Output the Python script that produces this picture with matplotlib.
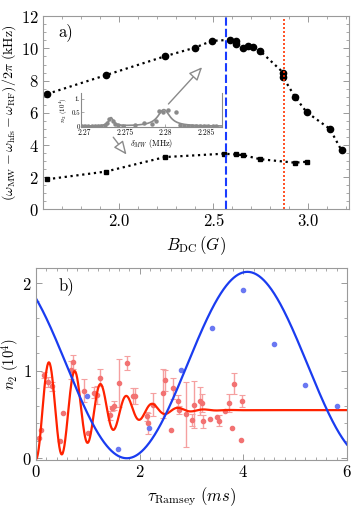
import numpy as np
import matplotlib
matplotlib.use("Agg")
import matplotlib.pyplot as plt
from matplotlib.ticker import MultipleLocator, FixedLocator

plt.rcParams['font.family'] = 'serif'
plt.rcParams['font.serif'] = ['cmr10', 'DejaVu Serif']
plt.rcParams['mathtext.fontset'] = 'cm'
plt.rcParams['axes.formatter.use_mathtext'] = True
plt.rcParams['axes.unicode_minus'] = False

# panel a) data
b_upper = [1.62, 1.931, 2.243, 2.40, 2.492, 2.587, 2.619, 2.62, 2.658, 2.684, 2.71, 2.746,
           2.869, 2.869, 2.931, 2.993, 3.116, 3.178]
f_upper = [7.17, 8.34, 9.51, 10.04, 10.47, 10.53, 10.43, 10.3, 10.0, 10.15, 10.1, 9.85,
           8.5, 8.2, 7.0, 6.04, 5.0, 3.66]
b_lower = [1.62, 1.931, 2.243, 2.556, 2.619, 2.658, 2.746, 2.931, 2.993]
f_lower = [1.87, 2.35, 3.25, 3.46, 3.41, 3.37, 3.12, 2.9, 2.96]
b_blue_line = 2.564
b_red_line = 2.876

# inset data
inset_d = [2.2697, 2.2701, 2.2705, 2.2709, 2.2713, 2.2717, 2.2721, 2.2725, 2.2728, 2.2731,
           2.2735, 2.2738, 2.2742, 2.2748, 2.2762, 2.2774, 2.2783, 2.2788, 2.2792, 2.2797,
           2.2803, 2.2813, 2.2818, 2.2823, 2.2828, 2.2833, 2.2838, 2.2843, 2.2848, 2.2853,
           2.2858, 2.2862]
inset_n = [0.0, 0.01, 0.0, 0.01, 0.0, 0.01, 0.02, 0.04, 0.12, 0.27, 0.19, 0.07, 0.04, 0.0,
           0.05, 0.12, 0.08, 0.19, 0.56, 0.53, 0.58, 0.50, 0.04, 0.01, 0.0, 0.01, 0.0,
           0.01, 0.0, 0.0, 0.0, 0.01]
# lorentz fit parameters (center, height, half width)
peak1 = (2.2733, 0.30, 0.00035)
peak2 = (2.2798, 0.60, 0.0009)

# panel b) data
blue_t = [0.99, 1.59, 2.19, 2.80, 3.39, 4.0, 4.60, 5.2, 5.80]
blue_n = [0.71, 0.11, 0.34, 1.01, 1.49, 1.92, 1.31, 0.84, 0.60]
red_t = [0.05, 0.10, 0.16, 0.23, 0.31, 0.46, 0.53, 0.68, 0.72, 0.93, 1.0, 1.11, 1.17, 1.24,
         1.43, 1.47, 1.51, 1.60, 1.76, 1.88, 1.92, 2.14, 2.16, 2.25, 2.45, 2.49, 2.61, 2.64,
         2.74, 2.75, 2.90, 3.01, 3.04, 3.16, 3.20, 3.23, 3.35, 3.49, 3.54, 3.65, 3.72, 3.83,
         3.79, 3.95, 3.98]
red_n = [0.23, 0.32, 0.95, 0.87, 0.82, 0.20, 0.52, 1.01, 1.10, 0.77, 0.29, 0.75, 0.72, 0.92,
         0.49, 0.57, 0.60, 0.86, 1.09, 0.71, 0.71, 0.48, 0.40, 0.61, 0.74, 0.89, 0.32, 0.80,
         0.65, 0.55, 0.50, 0.44, 0.61, 0.65, 0.63, 0.42, 0.45, 0.47, 0.43, 0.54, 0.63, 0.85,
         0.34, 0.21, 0.65]
red_err = [0, 0, 0.03, 0.06, 0.05, 0, 0, 0.1, 0.08, 0.13, 0, 0.06, 0.1, 0.1,
           0.05, 0.03, 0.05, 0.27, 0.08, 0.09, 0.09, 0.05, 0.12, 0.13, 0.28, 0.12, 0, 0.12,
           0.07, 0.05, 0.37, 0.07, 0.27, 0.16, 0.1, 0.07, 0, 0, 0.06, 0, 0.1, 0.12,
           0, 0, 0.07]
# fit parameters
blue_fit = dict(c=1.065, a=1.065, w=1.35, t0=4.08)
red_fit = dict(c=0.55, a=0.56, w=2 * np.pi / 0.5, tau=1.57)

frame_col = '#9a9a9a'


def style_axes(ax):
    for s in ax.spines.values():
        s.set_color(frame_col)
        s.set_linewidth(0.8)
    ax.tick_params(which='both', direction='in', top=True, right=True, color=frame_col,
                   labelsize=12, pad=3)
    ax.tick_params(which='major', length=4, width=0.7)
    ax.tick_params(which='minor', length=2, width=0.6)


fig = plt.figure(figsize=(3.57, 5.07), dpi=100)

# ---- panel a
ax1 = fig.add_axes([0.1204, 0.587, 0.857, 0.381])
ax1.plot(b_upper, f_upper, ':', color='black', lw=1.6, marker='o', ms=4.5)
ax1.plot(b_lower, f_lower, ':', color='black', lw=1.6, marker='s', ms=3.0)
ax1.axvline(b_blue_line, color='#1a3cff', lw=1.5, ls=(0, (4, 1.5)))
ax1.axvline(b_red_line, color='#ff3300', lw=1.2, ls=(0, (1.2, 1.2)))
ax1.set_xlim(1.598, 3.217)
ax1.set_ylim(0, 12)
ax1.xaxis.set_major_locator(FixedLocator([2.0, 2.5, 3.0]))
ax1.xaxis.set_minor_locator(MultipleLocator(0.1))
ax1.yaxis.set_major_locator(MultipleLocator(2))
ax1.yaxis.set_minor_locator(MultipleLocator(0.5))
ax1.set_xticklabels(['2.0', '2.5', '3.0'])
style_axes(ax1)
ax1.set_xlabel(r'$B_{\rm DC}\,(G)$', fontsize=12, labelpad=4)
ax1.set_ylabel(r'$(\omega_{\rm MW}-\omega_{\rm hfs}-\omega_{\rm RF})/2\pi\ (\rm kHz)$',
               fontsize=10, labelpad=1)
ax1.yaxis.set_label_coords(-0.083, 0.5)
ax1.text(1.677, 11.0, 'a)', fontsize=12, va='center')

arrow = dict(arrowstyle='-|>,head_length=0.8,head_width=0.35', color='#8a8a8a',
             lw=1.0, fc='white')
ax1.annotate('', xy=(2.45, 8.96), xytext=(2.252, 6.42), arrowprops=arrow)
ax1.annotate('', xy=(2.049, 3.27), xytext=(1.961, 4.62), arrowprops=arrow)

# ---- inset
axi = fig.add_axes([0.226, 0.750, 0.395, 0.066])
d = np.linspace(2.2695, 2.2869, 400)
fit = sum(h / (1 + ((d - c0) / g) ** 2) for c0, h, g in (peak1, peak2))
axi.plot(d, fit, color='#8a8a8a', lw=1.2)
axi.plot(inset_d, inset_n, 'o', color='#8a8a8a', ms=2.2)
axi.set_xlim(2.26956, 2.28693)
axi.set_ylim(-0.02, 1.19)
axi.set_xticks([2.27, 2.275, 2.28, 2.285])
axi.set_xticklabels(['2.27', '2.275', '2.28', '2.285'])
axi.set_yticks([0, 0.5, 1])
axi.set_yticklabels(['0', '0.5', '1.'])
axi.patch.set_alpha(0)
axi.spines['top'].set_visible(False)
for s in ('left', 'right', 'bottom'):
    axi.spines[s].set_color('#8a8a8a')
    axi.spines[s].set_linewidth(0.8)
axi.tick_params(direction='in', length=2, width=0.5, color='#8a8a8a', labelsize=5.5, pad=1)
axi.tick_params(axis='y', pad=0.5, labelsize=5)
axi.set_xlabel(r'$\delta_{MW}$ (MHz)', fontsize=6, labelpad=0.5)
axi.set_ylabel(r'$n_2\ (10^4)$', fontsize=5, labelpad=1)

# ---- panel b
ax2 = fig.add_axes([0.1008, 0.0927, 0.871, 0.378])
t = np.linspace(0, 6, 800)
blue_curve = blue_fit['c'] + blue_fit['a'] * np.cos(blue_fit['w'] * (t - blue_fit['t0']))
red_curve = red_fit['c'] - red_fit['a'] * np.cos(red_fit['w'] * t) * np.exp(-(t / red_fit['tau']) ** 2)

rt = np.array(red_t)
rn = np.array(red_n)
re = np.array(red_err)
m = re > 0
ax2.errorbar(rt[m], rn[m], yerr=re[m], fmt='none', ecolor='#f5a0a0', elinewidth=1.0,
             capsize=2, capthick=0.8)
ax2.plot(rt, rn, 'o', color='#f27272', ms=3.0)
ax2.plot(t, red_curve, color='#ff2200', lw=1.6)
ax2.plot(blue_t, blue_n, 'o', color='#6a78f2', ms=3.0)
ax2.plot(t, blue_curve, color='#1a3cf0', lw=1.6)
ax2.set_xlim(0, 6)
ax2.set_ylim(-0.02, 2.17)
ax2.xaxis.set_major_locator(MultipleLocator(2))
ax2.xaxis.set_minor_locator(MultipleLocator(0.2))
ax2.yaxis.set_major_locator(MultipleLocator(1))
ax2.yaxis.set_minor_locator(MultipleLocator(0.2))
style_axes(ax2)
ax2.set_xlabel(r'$\tau_{\rm Ramsey}\ (ms)$', fontsize=12, labelpad=4)
ax2.set_ylabel(r'$n_2\ (10^4)$', fontsize=10.5)
ax2.yaxis.set_label_coords(-0.047, 0.5)
ax2.text(0.43, 1.97, 'b)', fontsize=12, va='center')

fig.savefig('out.png', dpi=100)
